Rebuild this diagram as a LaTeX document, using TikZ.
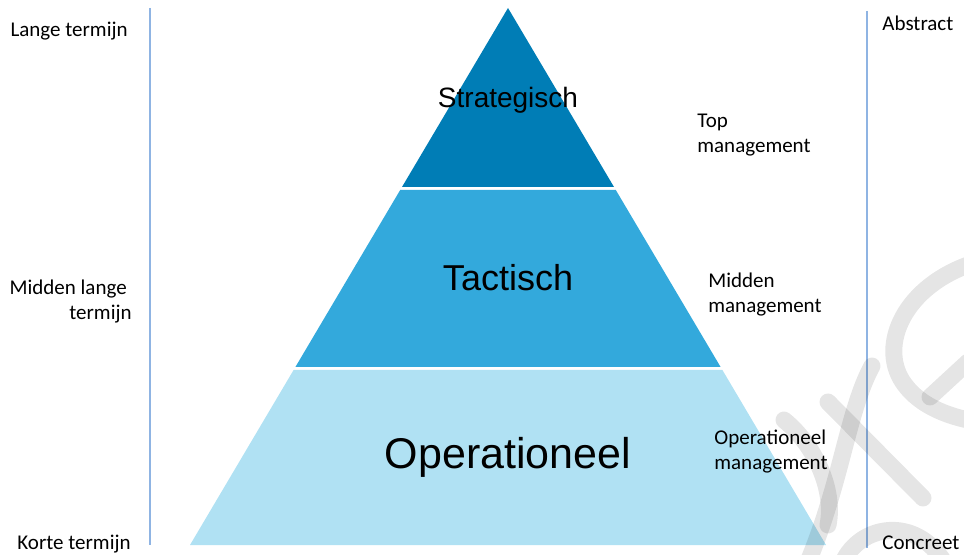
\documentclass[tikz,border=0pt]{standalone}
\usepackage{fontspec}
\setmainfont{Carlito}
\newfontfamily\arialfont{Liberation Sans}
\usetikzlibrary{positioning}

\definecolor{stratblue}{RGB}{0,125,182}
\definecolor{tactblue}{RGB}{51,169,220}
\definecolor{operblue}{RGB}{176,225,243}
\definecolor{axisblue}{RGB}{143,180,227}

\tikzset{
    sidelabel/.style={inner sep=0pt, align=left, font=\fontsize{10.5}{12.5}\selectfont},
    tiertext/.style={inner sep=0pt, anchor=base, text=black},
    axisline/.style={draw=axisblue, line width=0.6pt},
    wmark/.style={draw=black, opacity=0.1, line width=8.5pt, line cap=round}
}

\begin{document}
\begin{tikzpicture}[x=0.5pt,y=-0.5pt]
    \useasboundingbox (0,0) rectangle (964,555);
    % the three tiers
    \fill[stratblue] (508,8) -- (614,187) -- (402,187) -- cycle;
    \fill[tactblue] (400.2,190) -- (615.8,190) -- (720.6,367) -- (295.4,367) -- cycle;
    \fill[operblue] (293.6,370) -- (722.4,370) -- (826,545) -- (190,545) -- cycle;
    % time and abstraction axes
    \coordinate (ltop) at (150,8);
    \coordinate (lbot) at (150,545);
    \coordinate (rtop) at (867,11);
    \coordinate (rbot) at (867,548);
    \draw[axisline] (ltop) -- (lbot);
    \draw[axisline] (rtop) -- (rbot);
    % watermark
    \draw[wmark] (828,402) -- (923,498);
    \draw[wmark] (872,366) .. controls (848,410) and (842,480) .. (808,562);
    \draw[wmark] (784,420) .. controls (815,445) and (835,490) .. (828,525);
    \draw[wmark] (968,265) .. controls (900,290) and (878,350) .. (905,385) .. controls (920,405) and (945,415) .. (968,420);
    \draw[wmark] (930,397) -- (968,362);
    \draw[wmark] (843,562) .. controls (860,525) and (915,515) .. (944,562);
    % tier names
    \node[tiertext, font=\arialfont\fontsize{14}{17}\selectfont] (strat) at (508,108) {Strategisch};
    \node[tiertext, font=\arialfont\fontsize{18}{22}\selectfont] (tact) at (508,291) {Tactisch};
    \node[tiertext, font=\arialfont\fontsize{21.5}{26}\selectfont] (oper) at (508,469) {Operationeel};
    % left: time horizon
    \node[sidelabel, anchor=base east] (lang) at (128,37) {Lange termijn};
    \node[sidelabel, anchor=base east, align=right] (midlang) at (132,320) {Midden lange\kern0.23em\\termijn};
    \node[sidelabel, anchor=base east] (kort) at (131,550) {Korte termijn};
    % right: management levels
    \node[sidelabel, anchor=base west] (topm) at (697,153) {Top\\management};
    \node[sidelabel, anchor=base west] (midm) at (708,313) {Midden\\management};
    \node[sidelabel, anchor=base west] (operm) at (714,470) {Operationeel\\management};
    \node[sidelabel, anchor=base west] (abstr) at (882,31) {Abstract};
    \node[sidelabel, anchor=base west] (concr) at (882,549) {Concreet};
\end{tikzpicture}
\end{document}
